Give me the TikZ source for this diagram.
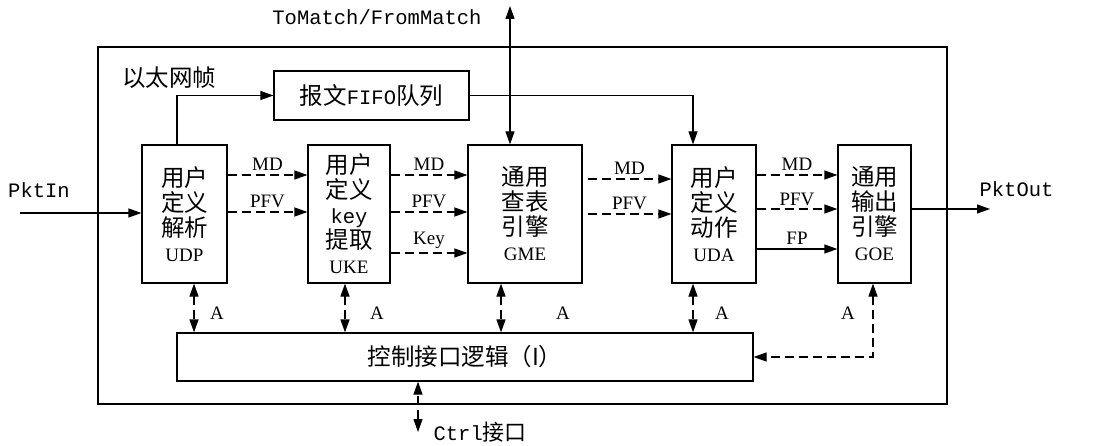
\documentclass[tikz,border=0pt]{standalone}
\usepackage{fontspec}
\setmainfont{Liberation Serif}
\newfontfamily\cjk{Noto Sans CJK SC}
\newfontfamily\mono{Liberation Mono}
\usetikzlibrary{arrows.meta,calc}
\newcommand{\lat}[1]{{\rmfamily\fontsize{19}{25}\selectfont #1}}
\newcommand{\mn}[1]{{\mono\fontsize{20.5}{25}\selectfont #1}}
\begin{document}
\begin{tikzpicture}[x=1pt,y=-1pt,
  tip/.style={-{Triangle[length=13pt,width=9pt]}},
  both/.style={{Triangle[length=13pt,width=9pt]}-{Triangle[length=13pt,width=9pt]}},
  dsh/.style={dash pattern=on 9pt off 5pt},
  blk/.style={draw,line width=1.2pt,inner sep=0pt,align=center,
    font=\cjk\fontsize{23.5}{25}\selectfont},
  lbl/.style={inner sep=1pt,font=\fontsize{19}{20}\selectfont},
  mlbl/.style={inner sep=1pt,font=\mono\fontsize{20.5}{22}\selectfont},
  every path/.style={line width=1.2pt}]
\useasboundingbox (0,0) rectangle (1105,446);
% outer frame
\node[draw,line width=1.2pt,minimum width=849pt,minimum height=357pt,inner sep=0pt] (frame) at (522.5,225.5) {};
\node[inner sep=0pt,font=\cjk\fontsize{23.5}{25}\selectfont] (eth) at (169,78) {以太网帧};
% blocks
\node[blk,minimum width=195pt,minimum height=49pt] (fifo) at (371.5,95.5) {报文\mn{FIFO}队列};
\node[blk,minimum width=85pt,minimum height=138pt] (udp) at (184.5,214) {用户\\定义\\解析\\\lat{UDP}};
\node[blk,minimum width=82pt,minimum height=138pt] (uke) at (349,214) {用户\\定义\\\mn{key}\\提取\\\lat{UKE}};
\node[blk,minimum width=114pt,minimum height=138pt] (gme) at (525,214) {通用\\查表\\引擎\\\lat{GME}};
\node[blk,minimum width=84pt,minimum height=138pt] (uda) at (714,214) {用户\\定义\\动作\\\lat{UDA}};
\node[blk,minimum width=73pt,minimum height=138pt] (goe) at (874.5,214) {通用\\输出\\引擎\\\lat{GOE}};
\node[blk,minimum width=576pt,minimum height=48pt] (ctl) at (465,357) {控制接口逻辑（I）};
% external labels
\node[mlbl] (pin) at (39,190) {PktIn};
\node[mlbl,anchor=west] (pout) at (978,189) {PktOut};
\node[mlbl] (tml) at (377,17) {ToMatch/FromMatch};
\node[anchor=west,inner sep=0pt] (ctrll) at (433,432) {\mn{Ctrl}{\cjk\fontsize{22}{25}\selectfont 接口}};
% coordinates
\coordinate (inS) at (20,213);
\coordinate (outE) at (990,209);
\coordinate (tmT) at (510,6);
\coordinate (ctB) at (418,432);
% PktIn / PktOut
\draw[tip] (inS) -- (inS -| udp.west);
\draw[tip] (goe.east |- outE) -- (outE);
% FIFO path
\draw[tip] ([xshift=-7.5pt]udp.north) |- (fifo.west);
\draw[tip] (fifo.east) -| ([xshift=-21pt]uda.north);
% ToMatch
\draw[both] (tmT) -- (tmT |- gme.north);
% UDP -> UKE
\draw[tip,dsh] ([yshift=39pt]udp.east) -- node[lbl,above=3pt]{MD} ([yshift=39pt]uke.west);
\draw[tip,dsh] ([yshift=2pt]udp.east) -- node[lbl,above=3pt]{PFV} ([yshift=2pt]uke.west);
% UKE -> GME
\draw[tip,dsh] ([yshift=39pt]uke.east) -- node[lbl,above=3pt]{MD} ([yshift=39pt]gme.west);
\draw[tip,dsh] ([yshift=2pt]uke.east) -- node[lbl,above=3pt]{PFV} ([yshift=2pt]gme.west);
\draw[tip,dsh] ([yshift=-39pt]uke.east) -- node[lbl,above=3pt]{Key} ([yshift=-39pt]gme.west);
% GME -> UDA
\draw[tip,dsh] ([yshift=35pt,xshift=5pt]gme.east) -- node[lbl,above=3pt]{MD} ([yshift=35pt]uda.west);
\draw[tip,dsh] ([yshift=0pt,xshift=5pt]gme.east) -- node[lbl,above=3pt]{PFV} ([yshift=0pt]uda.west);
% UDA -> GOE
\draw[tip,dsh] ([yshift=39pt]uda.east) -- node[lbl,above=3pt]{MD} ([yshift=39pt]goe.west);
\draw[tip,dsh] ([yshift=5pt]uda.east) -- node[lbl,above=2pt]{PFV} ([yshift=5pt]goe.west);
\draw[tip] ([yshift=-35pt]uda.east) -- node[lbl,above=3pt]{FP} ([yshift=-35pt]goe.west);
% A links
\draw[both,dsh] ([xshift=9.5pt]udp.south) -- ([xshift=9.5pt]udp.south |- ctl.north);
\draw[both,dsh] ([xshift=-4pt]uke.south) -- ([xshift=-4pt]uke.south |- ctl.north);
\draw[both,dsh] ([xshift=-24pt]gme.south) -- ([xshift=-24pt]gme.south |- ctl.north);
\draw[both,dsh] ([xshift=-21pt]uda.south) -- ([xshift=-21pt]uda.south |- ctl.north);
\draw[both,dsh] ([xshift=-1.5pt]goe.south) |- (ctl.east);
\node[lbl] (a1) at (217,313) {A};
\node[lbl] (a2) at (377,313) {A};
\node[lbl] (a3) at (563,313) {A};
\node[lbl] (a4) at (722,313) {A};
\node[lbl] (a5) at (848,313) {A};
% Ctrl
\draw[both,dsh] (ctB) -- (ctB |- ctl.south);
\end{tikzpicture}
\end{document}
